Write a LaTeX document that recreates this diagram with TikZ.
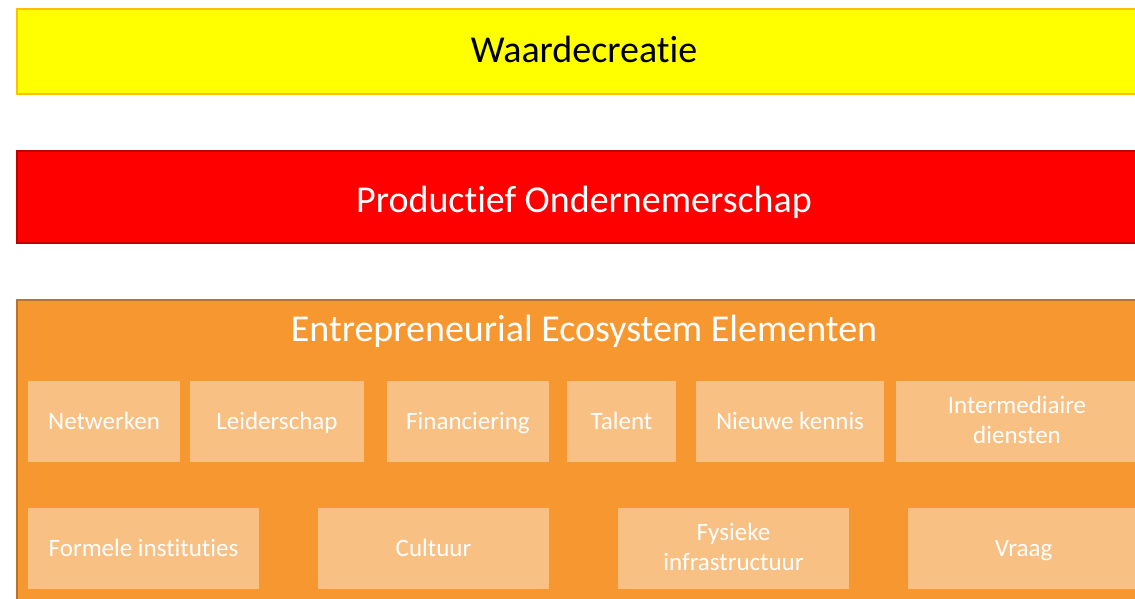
\documentclass[tikz,border=0pt]{standalone}
\usepackage{fontspec}
\setmainfont{Carlito}[Ligatures=NoCommon]
\definecolor{ylwfill}{HTML}{FFFF00}
\definecolor{ylwline}{HTML}{FFC000}
\definecolor{redfill}{HTML}{FF0000}
\definecolor{redline}{HTML}{C00000}
\definecolor{orgfill}{HTML}{F7972F}
\definecolor{orgline}{HTML}{B8732E}
\definecolor{elemfill}{HTML}{F9C083}
\begin{document}
\begin{tikzpicture}[x=1pt,y=-1pt,
  band/.style={line width=1.3pt, anchor=north west, inner sep=0pt, outer sep=0pt,
    font=\fontsize{38}{42}\selectfont, text depth=0pt},
  elem/.style={fill=elemfill, text=white, anchor=north west, inner sep=0pt, outer sep=0pt,
    minimum height=81pt, align=center, font=\fontsize{25}{30}\selectfont,
    text height=16pt, text depth=0pt},
  elemtwo/.style={elem, text height=45.5pt, text depth=1pt}]
\useasboundingbox (0,0) rectangle (1135,598);
\clip (0,0) rectangle (1135,598);
\node[band, fill=ylwfill, draw=ylwline, minimum width=1134pt, minimum height=85pt, text=black, text height=21.6pt] (wc) at (17,9) {Waardecreatie};
\node[band, fill=redfill, draw=redline, minimum width=1134pt, minimum height=92pt, text=white, text height=31pt] (po) at (17,151) {Productief Ondernemerschap};
\node[band, fill=orgfill, draw=orgline, minimum width=1134pt, minimum height=320pt] (eco) at (17,300) {};
\node[font=\fontsize{38}{42}\selectfont, text=white, inner sep=0pt, anchor=base] (ecot) at (584,341.7) {Entrepreneurial Ecosystem Elementen};
\node[elem, minimum width=152pt] (netw) at (28,381) {Netwerken};
\node[elem, minimum width=174pt] (leid) at (190,381) {Leiderschap};
\node[elem, minimum width=162pt] (fin) at (387,381) {Financiering};
\node[elem, minimum width=109pt] (tal) at (567,381) {Talent};
\node[elem, minimum width=188pt] (nk) at (696,381) {Nieuwe kennis};
\node[elemtwo, minimum width=242pt] (id) at (896,381) {Intermediaire\\diensten};
\node[elem, minimum width=231pt] (fi) at (28,508) {Formele instituties};
\node[elem, minimum width=231pt] (cu) at (318,508) {Cultuur};
\node[elemtwo, minimum width=231pt] (fy) at (618,508) {Fysieke\\infrastructuur};
\node[elem, minimum width=231pt] (vr) at (908,508) {Vraag};
\end{tikzpicture}
\end{document}
